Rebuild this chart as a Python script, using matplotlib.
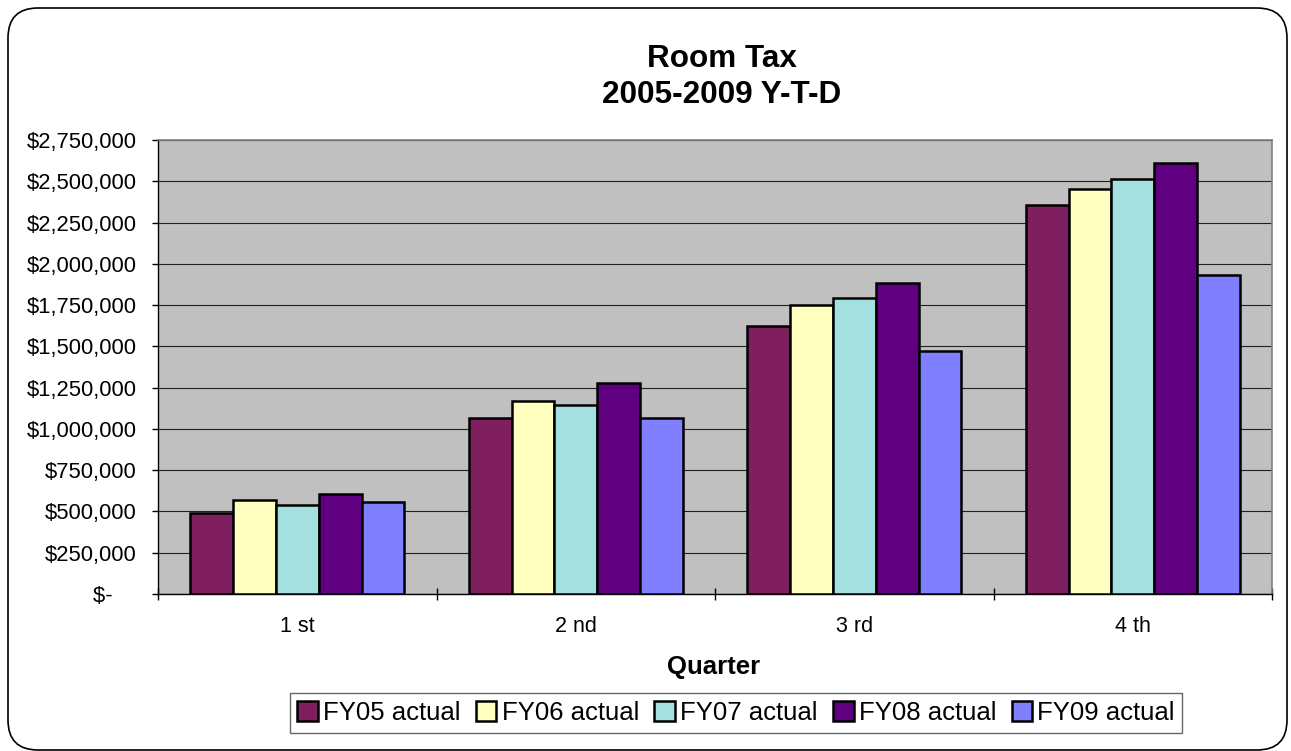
import numpy as np
import matplotlib
matplotlib.use('Agg')
import matplotlib.pyplot as plt
from matplotlib.patches import FancyBboxPatch
from matplotlib.ticker import FuncFormatter

plt.rcParams['font.family'] = ['Liberation Sans', 'DejaVu Sans']

# Room tax, year-to-date totals by quarter
quarters = ['1 st', '2 nd', '3 rd', '4 th']
fy05 = [490000, 1065000, 1624000, 2356000]
fy06 = [568000, 1171000, 1748000, 2455000]
fy07 = [538000, 1146000, 1793000, 2514000]
fy08 = [605000, 1276000, 1882000, 2612000]
fy09 = [556000, 1067000, 1474000, 1933000]
series_names = ['FY05 actual', 'FY06 actual', 'FY07 actual', 'FY08 actual', 'FY09 actual']
colors = ['#7f1f5f', '#ffffc0', '#a4e0e0', '#600080', '#8080ff']

fig = plt.figure(figsize=(12.91, 7.51), dpi=100, facecolor='white')

# rounded border round the whole chart
border = FancyBboxPatch((0.08, 0.01), 12.79, 7.42,
                        boxstyle='round,pad=0,rounding_size=0.3',
                        transform=fig.dpi_scale_trans, facecolor='none',
                        edgecolor='black', linewidth=1.2, zorder=-1)
fig.patches.append(border)

ax = fig.add_axes([0.1224, 0.2091, 0.8629, 0.6045])
ax.set_facecolor('#c0c0c0')

x = np.arange(len(quarters))
w = 1 / 6.5
all_series = [fy05, fy06, fy07, fy08, fy09]
for i, vals in enumerate(all_series):
    ax.bar(x + (i - 2) * w, vals, w, color=colors[i], edgecolor='black',
           linewidth=1.8, label=series_names[i], zorder=3)

ax.set_xlim(-0.5, 3.5)
ax.set_ylim(0, 2750000)
ax.set_yticks(np.arange(0, 2750001, 250000))


def money(v, pos):
    if v == 0:
        return '$-    '
    return '${:,.0f}'.format(v)


ax.yaxis.set_major_formatter(FuncFormatter(money))
ax.grid(axis='y', color='#202020', linewidth=0.8, zorder=1)
ax.set_axisbelow(True)

# category boundaries get the ticks, labels sit in the middle
ax.set_xticks(np.arange(-0.5, 4.0, 1.0))
ax.set_xticklabels([])
ax.set_xticks(x, minor=True)
ax.set_xticklabels(quarters, minor=True)
ax.tick_params(axis='x', which='major', direction='inout', length=9, width=1)
ax.tick_params(axis='x', which='minor', length=0, pad=16, labelsize=15.5)
ax.tick_params(axis='y', direction='out', length=4.3, width=1, pad=11, labelsize=15.8)

for s in ['left', 'bottom']:
    ax.spines[s].set_color('black')
    ax.spines[s].set_linewidth(1)
for s in ['top', 'right']:
    ax.spines[s].set_color('#808080')
    ax.spines[s].set_linewidth(1.2)

fig.text(721.5 / 1291, 1 - 77 / 751, 'Room Tax\n2005-2009 Y-T-D', ha='center',
         va='center', fontsize=22.7, fontweight='bold', linespacing=1.25)
fig.text(713.5 / 1291, 1 - 667 / 751, 'Quarter', ha='center', va='center',
         fontsize=18.5, fontweight='bold')

leg = fig.legend(loc='center', bbox_to_anchor=(736 / 1291, 1 - 713 / 751), ncol=5,
                 fontsize=18.5, frameon=True, fancybox=False, handlelength=0.8,
                 handleheight=0.8, handletextpad=0.2, columnspacing=0.6,
                 borderpad=0.3, borderaxespad=0)
leg.get_frame().set_edgecolor('#404040')
leg.get_frame().set_linewidth(1)

fig.savefig('out.png', dpi=100)
